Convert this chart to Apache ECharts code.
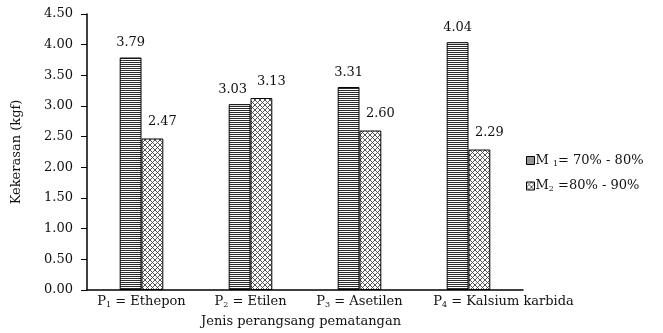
<!DOCTYPE html>
<html>
<head>
<meta charset="utf-8">
<script src="https://cdn.jsdelivr.net/npm/echarts@6/dist/echarts.min.js"></script>
<style>
  html, body { margin: 0; padding: 0; background: #fff; }
  #chart { width: 663px; height: 333px; }
</style>
</head>
<body>
<div id="chart"></div>
<script>
// Ripening stimulants (category axis)
const categories = ['P1', 'P2', 'P3', 'P4'];
const categoryNames = ['Ethepon', 'Etilen', 'Asetilen', 'Kalsium karbida'];
// Hardness (kgf) per maturity level
const seriesM1 = [3.79, 3.03, 3.31, 4.04];
const seriesM2 = [2.47, 3.13, 2.60, 2.29];
const seriesNames = ['M1', 'M2'];
// Value axis ticks
const yMin = 0, yMax = 4.5, yStep = 0.5;

const FONT = '"DejaVu Serif", "Liberation Serif", serif';
const INK = '#111';

// Horizontal stripe fill
function stripePattern() {
  const c = document.createElement('canvas');
  c.width = 4; c.height = 2;
  const g = c.getContext('2d');
  g.fillStyle = '#ffffff'; g.fillRect(0, 0, 4, 2);
  g.fillStyle = '#2a2a2a'; g.fillRect(0, 0, 4, 1);
  return c;
}
// Diamond cross-hatch fill
function crossPattern() {
  const s = 5;
  const c = document.createElement('canvas');
  c.width = s; c.height = s;
  const g = c.getContext('2d');
  g.fillStyle = '#ffffff'; g.fillRect(0, 0, s, s);
  g.strokeStyle = '#444'; g.lineWidth = 0.9;
  g.beginPath();
  g.moveTo(0, 0); g.lineTo(s, s);
  g.moveTo(s, 0); g.lineTo(0, s);
  g.stroke();
  return c;
}

const fillM1 = { image: stripePattern(), repeat: 'repeat' };
const fillM2 = { image: crossPattern(), repeat: 'repeat' };

const subRich = {
  b: { fontFamily: FONT, fontSize: 13, color: INK },
  s: { fontFamily: FONT, fontSize: 8, color: INK, verticalAlign: 'bottom', padding: [6, 0, 0, 0] }
};

function labelCfg(distance, dx) {
  return {
    show: true,
    position: 'top',
    distance: distance,
    offset: [dx, 0],
    fontFamily: FONT,
    fontSize: 13,
    color: INK,
    formatter: p => p.value.toFixed(2)
  };
}

// The M1 value over P2 sits a little left so it clears its neighbour
const m1Items = seriesM1.map((v, i) => i === 1 ? { value: v, label: { offset: [-7, 0] } } : v);

// Category labels; the long last one is pushed right so it clears P3
const xItems = categories.map((c, i) => i === 3
  ? { value: c, textStyle: { padding: [0, 0, 0, 70] } }
  : c);

const chart = echarts.init(document.getElementById('chart'), null, { renderer: 'canvas' });

chart.setOption({
  animation: false,
  backgroundColor: '#fff',
  grid: { left: 87, right: 140, top: 14, bottom: 41, containLabel: false },
  legend: {
    orient: 'vertical',
    left: 521,
    top: 149,
    itemWidth: 8,
    itemHeight: 8,
    itemGap: 12,
    icon: 'rect',
    data: seriesNames,
    itemStyle: { borderColor: '#000', borderWidth: 1 },
    formatter: name => name === 'M1'
      ? '{b|M }{s|1}{b|= 70% - 80%}'
      : '{b|M}{s|2}{b| =80% - 90%}',
    textStyle: { fontFamily: FONT, fontSize: 13, color: INK, padding: [0, 0, 0, -4], rich: subRich }
  },
  xAxis: {
    type: 'category',
    data: xItems,
    name: 'Jenis perangsang pematangan',
    nameLocation: 'middle',
    nameGap: 25,
    nameTextStyle: { fontFamily: FONT, fontSize: 13, color: INK, padding: [0, 8, 0, 0] },
    axisLine: { lineStyle: { color: '#000', width: 1.5 } },
    axisTick: { show: false },
    axisLabel: {
      margin: 5,
      interval: 0,
      formatter: (v, i) => '{b|P}{s|' + (i + 1) + '}{b| = ' + categoryNames[i] + '}',
      rich: subRich
    }
  },
  yAxis: {
    type: 'value',
    min: yMin,
    max: yMax,
    interval: yStep,
    name: 'Kekerasan (kgf)',
    nameLocation: 'middle',
    nameGap: 64,
    nameTextStyle: { fontFamily: FONT, fontSize: 13, color: INK },
    axisLine: { show: true, lineStyle: { color: '#000', width: 1.5 } },
    axisTick: { show: true, inside: false, length: 6, lineStyle: { color: '#000' } },
    splitLine: { show: false },
    axisLabel: {
      margin: 14,
      fontFamily: FONT,
      fontSize: 13,
      color: INK,
      formatter: v => v.toFixed(2)
    }
  },
  series: [
    {
      name: 'M1',
      type: 'bar',
      data: m1Items,
      barGap: '0%',
      barCategoryGap: '60%',
      itemStyle: { color: fillM1, borderColor: '#000', borderWidth: 1 },
      label: labelCfg(8, 0)
    },
    {
      name: 'M2',
      type: 'bar',
      data: seriesM2,
      itemStyle: { color: fillM2, borderColor: '#000', borderWidth: 1 },
      label: labelCfg(10, 10)
    }
  ]
});
</script>
</body>
</html>
